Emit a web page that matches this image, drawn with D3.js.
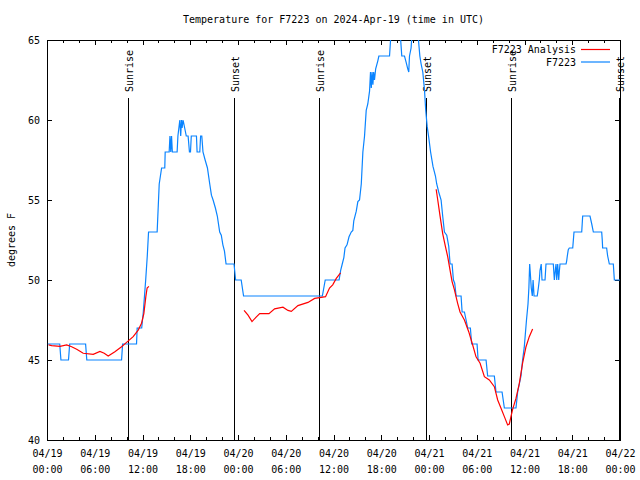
<!DOCTYPE html>
<html><head><meta charset="utf-8">
<script src="https://cdn.jsdelivr.net/npm/d3@7"></script>
<style>
body{margin:0;background:#fff}
text{font-family:"DejaVu Sans Mono",monospace;font-size:10px;fill:#000}
</style>
</head><body>
<svg id="chart" width="640" height="480"></svg>
<script>
// ---- data (hours since 2024-04-19 00:00 UTC, degrees F) ----
const titleText = "Temperature for F7223 on 2024-Apr-19 (time in UTC)";
const yLabelText = "degrees F";
const seriesNames = ["F7223 Analysis", "F7223"];
const yTicks = [40, 45, 50, 55, 60, 65];
const xMajorHours = [0, 6, 12, 18, 24, 30, 36, 42, 48, 54, 60, 66, 72];
const xMinorHours = [2, 4, 8, 10, 14, 16, 20, 22, 26, 28, 32, 34, 38, 40, 44, 46, 50, 52, 56, 58, 62, 64, 68, 70];
const sunriseHours = [10.22, 34.22, 58.34];
const sunsetHours = [23.54, 47.66, 71.88];

const observed = [
  [0.1,46],[1.6,46],[1.75,45],[2.7,45],[2.85,46],[4.85,46],[5.0,45],[9.37,45],[9.5,46],[11.25,46],
  [11.33,47],[11.9,47],[12.1,48],[12.4,50],[12.6,51.5],[12.76,53],[13.84,53],[14.1,56],[14.4,57],[14.8,57],
  [14.85,58],[15.35,58],[15.45,59],[15.55,58],[15.65,59],[15.75,58],[16.35,58],[16.45,59],[16.69,60],[16.8,59],
  [16.9,60],[16.98,59.5],[17.1,60],[17.3,59.5],[17.5,59],[17.73,59],[17.9,58],[18.03,58],[18.13,59],[18.78,59],
  [18.86,58],[19.2,58],[19.3,59],[19.45,59],[19.6,58],[19.87,57.5],[20.16,57],[20.45,56],[20.66,55.3],[20.87,55],
  [21.16,54.5],[21.4,54],[21.7,53],[21.9,52.8],[22.1,52.2],[22.3,51.8],[22.5,51],[23.5,51],[23.7,50],[24.4,50],
  [24.7,49],[34.6,49],[34.96,50],[36.7,50],[36.9,50.6],[37.1,51],[37.3,51.4],[37.45,52],[37.7,52.2],[37.95,52.7],
  [38.23,53],[38.43,53.1],[38.55,53.7],[38.86,54.3],[39.06,54.9],[39.27,55],[39.49,56],[39.69,58],[39.9,59],[40.11,60.6],
  [40.31,61],[40.53,61.8],[40.65,63],[40.75,62],[40.85,63],[40.95,62.2],[41.05,63],[41.15,62.5],[41.3,63.2],[41.57,63.7],
  [41.7,64],[43.04,64],[43.3,66],[44.3,66],[44.58,64],[44.92,64],[45.13,63.6],[45.33,63.2],[45.46,63],[45.5,63.5],
  [45.55,64],[45.75,64.5],[45.95,66],[46.5,66],[46.85,64],[47.01,63.5],[47.22,63],[47.43,61.9],[47.59,60.6],[47.77,59.6],
  [47.97,58.9],[48.2,58],[48.5,57.1],[48.81,56.5],[48.97,56],[49.22,55.5],[49.52,55],[49.72,54],[49.94,53],[50.23,52.8],
  [50.48,52.1],[50.65,51],[50.9,51],[51.07,50],[51.23,49.8],[51.41,49],[52.03,49],[52.16,48],[52.45,48],[52.66,47.5],
  [52.86,47],[53.2,47],[53.36,46],[54.04,46],[54.17,45],[55.17,45],[55.37,44],[56.21,44],[56.42,43],[57.18,43],
  [57.47,42],[58.93,42],[59.14,43],[59.35,43.5],[59.56,44],[59.76,45],[59.97,45.8],[60.25,47.5],[60.44,48.5],[60.55,49.5],
  [60.65,51],[60.72,50.5],[60.85,49.5],[60.98,49],[61.08,50],[61.2,49],[61.6,49],[61.74,49.5],[61.86,50],[61.95,50.6],
  [62.1,51],[62.2,50],[62.58,50],[62.7,51],[63.62,51],[63.75,50],[63.85,50.5],[63.96,51],[64.05,50],[64.17,51],
  [64.3,50],[64.37,50.5],[64.46,51],[65.22,51],[65.3,51.2],[65.38,51.5],[65.5,51.9],[65.63,52],[66.06,52],[66.14,52.5],
  [66.22,53],[67.19,53],[67.31,54],[68.23,54],[68.45,53.5],[68.65,53],[69.7,53],[69.77,52.5],[69.82,52],[70.32,52],
  [70.45,51.5],[70.66,51],[71.16,51],[71.29,50],[72,50]
];

const analysisDay1 = [
  [0.2,45.95],[0.59,45.9],[1.63,45.85],[2.47,45.94],[3.1,45.83],[3.73,45.67],[4.55,45.42],[5.81,45.35],[6.65,45.54],[7.19,45.42],
  [7.69,45.25],[8.53,45.52],[9.37,45.83],[10.0,46.1],[10.83,46.46],[11.46,46.87],[11.88,47.3],[12.17,47.9],[12.42,48.96],[12.58,49.5],
  [12.8,49.6]
];
const analysisDay2 = [
  [24.76,48.1],[25.26,47.8],[25.76,47.4],[26.31,47.7],[26.73,47.9],[27.89,47.9],[28.6,48.2],[29.65,48.3],[30.28,48.1],[30.7,48.04],
  [31.53,48.4],[32.79,48.6],[33.63,48.85],[34.25,48.9],[35.0,48.96],[35.5,49.5],[35.9,49.7],[36.35,50.1],[36.89,50.45]
];
const analysisDay3 = [
  [48.9,55.67],[49.1,55],[49.4,53.96],[49.72,52.9],[50.06,52.1],[50.35,51.46],[50.65,50.6],[50.9,49.9],[51.19,49.4],[51.6,48.54],
  [51.9,48.0],[52.45,47.5],[52.99,46.77],[53.49,45.94],[53.91,45.2],[54.42,44.8],[54.96,43.96],[55.58,43.75],[56.21,43.33],[56.63,42.5],
  [57.05,41.98],[57.47,41.46],[57.88,40.94],[58.09,41],[58.5,41.9],[58.93,42.6],[59.35,43.54],[59.76,44.8],[60.19,45.83],[60.6,46.46],
  [61.02,46.94]
];

// ---- drawing ----
const startMs = Date.UTC(2024, 3, 19, 0, 0, 0);
const toDate = h => new Date(startMs + h * 3600e3);
const M = {left: 47, right: 620, top: 40, bottom: 440};
const blue = "#0a84ff", red = "#ff0000";

const svg = d3.select("#chart");
const x = d3.scaleUtc().domain([toDate(0), toDate(72)]).range([M.left, M.right]);
const y = d3.scaleLinear().domain([40, 65]).range([M.bottom, M.top]);

svg.append("defs").append("clipPath").attr("id", "plotclip")
  .append("rect").attr("x", M.left).attr("y", M.top)
  .attr("width", M.right - M.left).attr("height", M.bottom - M.top);

// title
svg.append("text").attr("x", (M.left + M.right) / 2).attr("y", 23)
  .attr("text-anchor", "middle").text(titleText);

// y label
svg.append("text").attr("transform", `translate(11,${(M.top + M.bottom) / 2}) rotate(-90)`)
  .attr("text-anchor", "middle").attr("dominant-baseline", "central").text(yLabelText);

function styleAxis(g) {
  g.select(".domain").remove();
  g.selectAll("line").attr("stroke", "#000").attr("shape-rendering", "crispEdges");
  g.selectAll("text").style("font-family", "DejaVu Sans Mono, monospace").style("font-size", "10px");
}

const majorDates = xMajorHours.map(toDate);
const minorDates = xMinorHours.map(toDate);

// bottom axis
const gxb = svg.append("g").attr("transform", `translate(0,${M.bottom})`)
  .call(d3.axisBottom(x).tickValues(majorDates).tickSize(-5).tickSizeOuter(0).tickFormat(() => ""));
styleAxis(gxb);
gxb.selectAll(".tick text").remove();
gxb.selectAll(".tick").append("text").attr("text-anchor", "middle").attr("fill", "#000")
  .each(function(d) {
    const t = d3.select(this);
    t.append("tspan").attr("x", 0).attr("y", 17).text(d3.utcFormat("%m/%d")(d));
    t.append("tspan").attr("x", 0).attr("y", 33).text(d3.utcFormat("%H:%M")(d));
  });
styleAxis(svg.append("g").attr("transform", `translate(0,${M.bottom})`)
  .call(d3.axisBottom(x).tickValues(minorDates).tickSize(-3).tickSizeOuter(0).tickFormat(() => "")));

// top axis
styleAxis(svg.append("g").attr("transform", `translate(0,${M.top})`)
  .call(d3.axisTop(x).tickValues(majorDates).tickSize(-5).tickSizeOuter(0).tickFormat(() => "")));
styleAxis(svg.append("g").attr("transform", `translate(0,${M.top})`)
  .call(d3.axisTop(x).tickValues(minorDates).tickSize(-3).tickSizeOuter(0).tickFormat(() => "")));

// left axis
const gyl = svg.append("g").attr("transform", `translate(${M.left},0)`)
  .call(d3.axisLeft(y).tickValues(yTicks).tickSize(-5).tickSizeOuter(0).tickPadding(7).tickFormat(d3.format("d")));
styleAxis(gyl);
gyl.selectAll(".tick text").attr("fill", "#000");
// right axis
styleAxis(svg.append("g").attr("transform", `translate(${M.right},0)`)
  .call(d3.axisRight(y).tickValues(yTicks).tickSize(-5).tickSizeOuter(0).tickFormat(() => "")));

// border
svg.append("rect").attr("x", M.left + 0.5).attr("y", M.top + 0.5)
  .attr("width", M.right - M.left).attr("height", M.bottom - M.top)
  .attr("fill", "none").attr("stroke", "#000").attr("shape-rendering", "crispEdges");

// sunrise / sunset markers
const events = sunriseHours.map(h => ({h, label: "Sunrise"}))
  .concat(sunsetHours.map(h => ({h, label: "Sunset"})));
const ev = svg.append("g");
events.forEach(e => {
  const px = Math.round(x(toDate(e.h))) + 0.5;
  ev.append("line").attr("x1", px).attr("x2", px).attr("y1", 98).attr("y2", M.bottom)
    .attr("stroke", "#000").attr("stroke-width", 1).attr("shape-rendering", "crispEdges");
  ev.append("text").attr("transform", `translate(${px + 1},92) rotate(-90)`)
    .attr("text-anchor", "start").attr("dominant-baseline", "central").text(e.label);
});

// lines
const line = d3.line().x(d => x(toDate(d[0]))).y(d => y(d[1]));
const plot = svg.append("g").attr("clip-path", "url(#plotclip)");
plot.append("path").datum(observed).attr("d", line)
  .attr("fill", "none").attr("stroke", blue).attr("stroke-width", 1.2);
[analysisDay1, analysisDay2, analysisDay3].forEach(seg => {
  plot.append("path").datum(seg).attr("d", line)
    .attr("fill", "none").attr("stroke", red).attr("stroke-width", 1.2);
});

// legend
const legendColors = [red, blue];
seriesNames.forEach((name, i) => {
  const ly = 49.5 + i * 12.5;
  svg.append("text").attr("x", 576).attr("y", ly).attr("text-anchor", "end")
    .attr("dominant-baseline", "central").text(name);
  svg.append("line").attr("x1", 581).attr("x2", 610).attr("y1", ly).attr("y2", ly)
    .attr("stroke", legendColors[i]).attr("stroke-width", 1.2);
});
</script>
</body></html>
